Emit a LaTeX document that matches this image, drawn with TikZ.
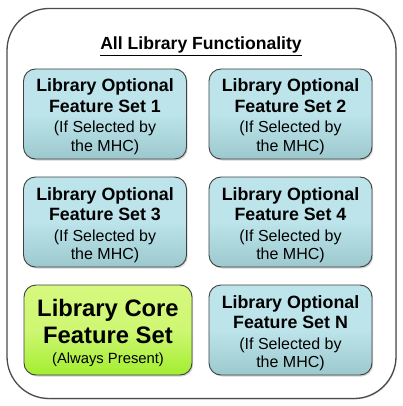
\documentclass[tikz,border=0pt]{standalone}
\usepackage{fontspec}
\setmainfont{Liberation Sans}
\usetikzlibrary{shadows}
\definecolor{bluetop}{HTML}{BCE4EA}
\definecolor{bluebot}{HTML}{9CC9CE}
\definecolor{greentop}{HTML}{D6F87E}
\definecolor{greenbot}{HTML}{A2EE30}
\tikzset{
  featbox/.style={draw=black!75, line width=0.9pt, rounded corners=12pt,
    top color=bluetop, bottom color=bluebot, middle color=bluetop,
    drop shadow={shadow xshift=1.2pt, shadow yshift=-1.5pt, opacity=0.35},
    minimum width=163pt, minimum height=90pt, inner sep=0pt},
  corebox/.style={featbox, top color=greentop, bottom color=greenbot, middle color=greentop!85!greenbot,
    minimum width=168pt},
  bigtxt/.style={anchor=base, inner sep=0pt, font=\fontsize{17.8}{21}\selectfont\bfseries},
  smalltxt/.style={anchor=base, inner sep=0pt, font=\fontsize{16}{20}\selectfont},
  coretxt/.style={anchor=base, inner sep=0pt, font=\fontsize{23.8}{26}\selectfont\bfseries},
  coresmall/.style={anchor=base, inner sep=0pt, font=\fontsize{14.8}{18}\selectfont},
}
\newcommand\optbox[4]{%
  \node[featbox] (#1) at (#2,#3) {};
  \node[bigtxt] (#1a) at ($(#1.center)+(0,-22)$) {Library Optional};
  \node[bigtxt] (#1b) at ($(#1.center)+(0,-1.3)$) {Feature Set #4};
  \node[smalltxt] (#1c) at ($(#1.center)+(0,19)$) {(If Selected by};
  \node[smalltxt] (#1d) at ($(#1.center)+(0,37.7)$) {the MHC)};
}
\usetikzlibrary{calc}
\begin{document}
\begin{tikzpicture}[x=1pt,y=-1pt]
\useasboundingbox (0,0) rectangle (403,406);
\node[draw=black!70, line width=1.3pt, rounded corners=42pt, minimum width=389pt, minimum height=390pt,
  drop shadow={shadow xshift=0.8pt, shadow yshift=-1pt, opacity=0.3}, fill=white] (outer) at (201.5,203.5) {};
\node[anchor=base, inner sep=0pt] (title) at (201,50) {\fontsize{17.6}{21}\selectfont\bfseries\underline{All Library Functionality}};
\optbox{f1}{105}{114}{1}
\optbox{f2}{290.5}{114}{2}
\optbox{f3}{105}{222}{3}
\optbox{f4}{290.5}{222}{4}
\optbox{fn}{290.5}{330}{N}
\node[corebox] (core) at (108,330) {};
\node[coretxt] (corea) at ($(core.center)+(0,-13.3)$) {Library Core};
\node[coretxt] (coreb) at ($(core.center)+(0,13.3)$) {Feature Set};
\node[coresmall] (corec) at ($(core.center)+(0,33.3)$) {(Always Present)};
\end{tikzpicture}
\end{document}
